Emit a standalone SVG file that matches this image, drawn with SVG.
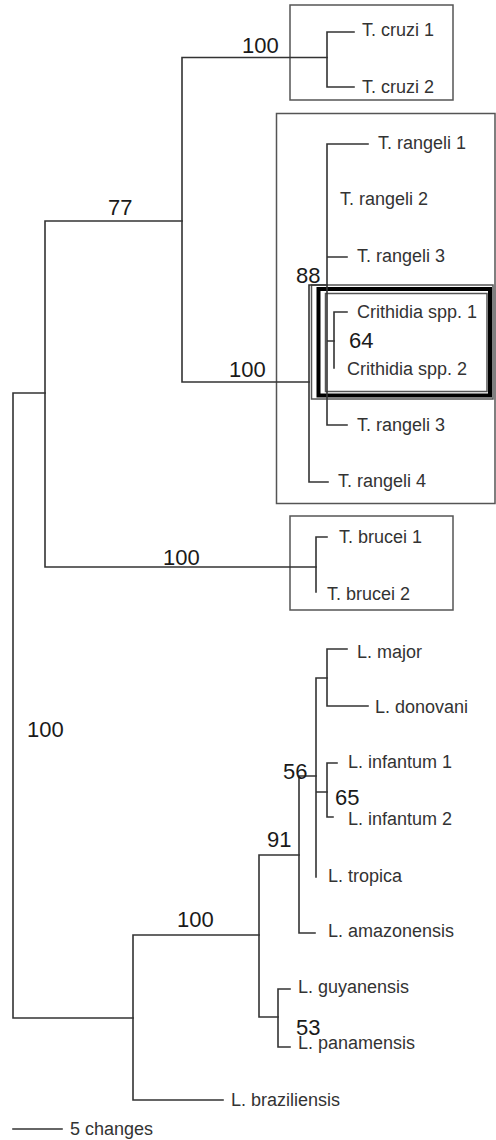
<svg xmlns="http://www.w3.org/2000/svg" width="496" height="1140" viewBox="0 0 496 1140">
<style>
.br{fill:none;stroke:#333;stroke-width:1.6;stroke-linecap:square}
.box{fill:none;stroke:#555;stroke-width:1.5}
.tx{font-family:"Liberation Sans",Arial,sans-serif;font-size:18px;fill:#333}
.bs{font-family:"Liberation Sans",Arial,sans-serif;font-size:22px;fill:#1a1a1a}
</style>
<rect width="496" height="1140" fill="#fff"/>
<g id="boxes">
<rect id="box-cruzi" class="box" x="290" y="5" width="163" height="95"/>
<rect id="box-rangeli" class="box" x="276.5" y="113.5" width="218.5" height="390"/>
<rect id="box-brucei" class="box" x="290" y="516" width="163" height="94"/>
<g id="box-crithidia">
<rect class="box" x="311.5" y="285" width="181.5" height="114" stroke="#333"/>
<rect x="318.5" y="289" width="171.5" height="106.5" fill="none" stroke="#000" stroke-width="4"/>
<rect class="box" x="325.5" y="293.5" width="161.5" height="98" stroke="#444" stroke-width="1.2"/>
</g>
</g>
<g id="connectors">
<path class="br" d="M13,393 V1018 M13,393 H45 M13,1018 H133"/>
<path class="br" d="M45,221 V567 M45,221 H182 M45,567 H316"/>
<path class="br" d="M182,57.5 V382 M182,57.5 H327 M182,382 H309"/>
<path class="br" d="M327,32 V87 M327,32 H354 M327,87 H354"/>
<path class="br" d="M309,285 V482 M309,482 H328 M309,285 H327"/>
<path class="br" d="M327,144 V425 M327,144 H368 M327,257 H347 M327,425 H347 M327,341 H334"/>
<path class="br" d="M334,312 V368 M334,312 H347"/>
<path class="br" d="M316,537 V592 M316,537 H327"/>
<path class="br" d="M133,935 V1100 M133,935 H259 M133,1100 H223"/>
<path class="br" d="M259,855 V1017 M259,855 H299 M259,1017 H278"/>
<path class="br" d="M299,776 V933 M299,776 H316 M299,933 H315"/>
<path class="br" d="M316,678 V877 M316,678 H327 M316,792 H327"/>
<path class="br" d="M327,649 V706 M327,649 H347 M327,706 H368"/>
<path class="br" d="M327,763 V817 M327,763 H337 M327,817 H333"/>
<path class="br" d="M278,989 V1047 M278,989 H290 M278,1047 H290"/>
</g>
<g id="support">
<text class="bs" x="242" y="53">100</text>
<text class="bs" x="108" y="215">77</text>
<text class="bs" x="229" y="377">100</text>
<text class="bs" x="296" y="283">88</text>
<text class="bs" x="349" y="348">64</text>
<text class="bs" x="163" y="565">100</text>
<text class="bs" x="27" y="737">100</text>
<text class="bs" x="283" y="779">56</text>
<text class="bs" x="335" y="805">65</text>
<text class="bs" x="267" y="847">91</text>
<text class="bs" x="177" y="927">100</text>
<text class="bs" x="296" y="1035">53</text>
</g>
<g id="n-cruzi1"><text class="tx" x="362" y="36">T. cruzi 1</text></g>
<g id="n-cruzi2"><text class="tx" x="362" y="93">T. cruzi 2</text></g>
<g id="n-rangeli1"><text class="tx" x="378" y="149">T. rangeli 1</text></g>
<g id="n-rangeli2"><text class="tx" x="340" y="205">T. rangeli 2</text></g>
<g id="n-rangeli3a"><text class="tx" x="357" y="262">T. rangeli 3</text></g>
<g id="n-crithidia1"><text class="tx" x="357" y="318">Crithidia spp. 1</text></g>
<g id="n-crithidia2"><text class="tx" x="347" y="375">Crithidia spp. 2</text></g>
<g id="n-rangeli3b"><text class="tx" x="357" y="431">T. rangeli 3</text></g>
<g id="n-rangeli4"><text class="tx" x="338" y="487">T. rangeli 4</text></g>
<g id="n-brucei1"><text class="tx" x="339" y="543">T. brucei 1</text></g>
<g id="n-brucei2"><text class="tx" x="327" y="600">T. brucei 2</text></g>
<g id="n-major"><text class="tx" x="357" y="658">L. major</text></g>
<g id="n-donovani"><text class="tx" x="375" y="713">L. donovani</text></g>
<g id="n-infantum1"><text class="tx" x="348" y="768">L. infantum 1</text></g>
<g id="n-infantum2"><text class="tx" x="348" y="825">L. infantum 2</text></g>
<g id="n-tropica"><text class="tx" x="328" y="882">L. tropica</text></g>
<g id="n-amazonensis"><text class="tx" x="328" y="937">L. amazonensis</text></g>
<g id="n-guyanensis"><text class="tx" x="298" y="993">L. guyanensis</text></g>
<g id="n-panamensis"><text class="tx" x="298" y="1049">L. panamensis</text></g>
<g id="n-braziliensis"><text class="tx" x="231" y="1106">L. braziliensis</text></g>
<g id="scale">
<path class="br" d="M13,1129 H62"/>
<text class="tx" x="70" y="1135">5 changes</text>
</g>
</svg>
